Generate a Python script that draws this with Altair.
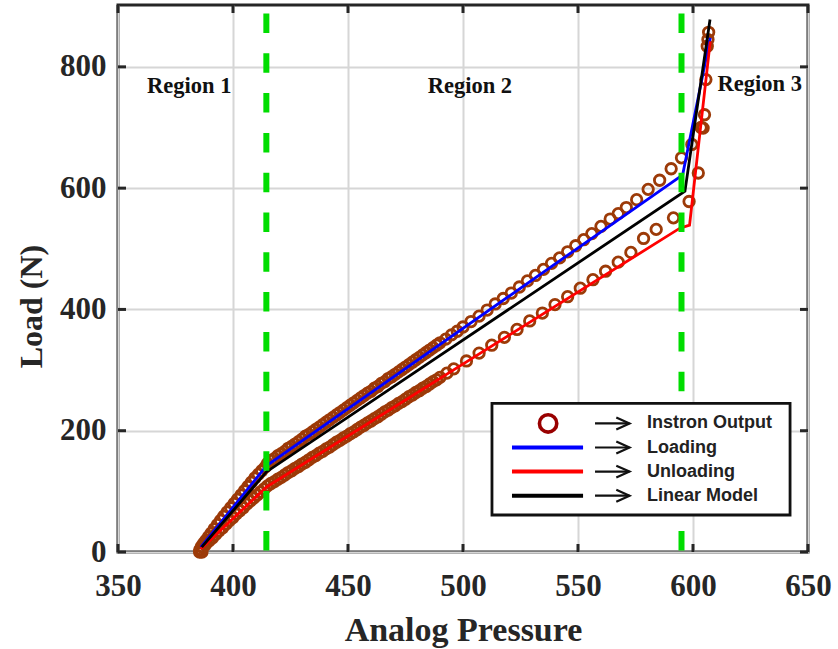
import altair as alt
import pandas as pd

# ---------------- data ----------------
X_TICKS = [350, 400, 450, 500, 550, 600, 650]
Y_TICKS = [0, 200, 400, 600, 800]

# Instron output, loading branch
LOAD_PTS_X = [385.5, 386, 386.5, 385.6, 386.3, 387.2, 388.2, 389.3, 390.5, 391.8, 393.2, 394.6, 396, 397.5,
              399, 400.5, 402, 403.5, 405, 406.5, 408, 409.5, 411, 412.5, 414,
              415, 416.5, 418, 419.5, 421, 422.5, 424, 425.5, 427, 428.5, 430, 431.5, 433, 434.5, 436,
              437.5, 439, 440.5, 442, 443.5, 445, 446.5, 448, 449.5, 451, 452.5, 454, 455.5, 457, 458.5,
              460, 461.5, 463, 464.5, 466, 467.5, 469, 470.5, 472, 473.5, 475, 476.5, 478, 479.5, 481,
              482.5, 484, 485.5, 487, 488.5, 490, 492.5, 495, 497.5, 500,
              503.5, 507, 510.5, 514, 517.5, 521, 524.5, 528, 531.5, 535, 538.5, 542, 545.5, 549, 552.5,
              556, 560, 564, 567.5, 571, 575.5, 580.5, 585.5, 590.5, 595, 599.5, 603.5, 606.2, 606.8]
LOAD_PTS_Y = [0, 2, 0, 4, 9, 14, 19, 25, 31, 38, 45, 52, 59, 66,
              73, 80, 87, 94, 101, 108, 115, 122, 128, 134, 140,
              146, 151, 154, 159, 162, 166, 171, 174, 178, 182, 186, 191, 194, 198, 202,
              206, 210, 214, 218, 222, 226, 230, 234, 238, 242, 246, 250, 254, 258, 262,
              265, 270, 273, 278, 281, 286, 289, 293, 297, 301, 305, 309, 313, 317, 321,
              325, 329, 333, 337, 341, 345, 351, 358, 364, 371,
              380, 389, 399, 409, 418, 427, 437, 447, 456, 466, 476, 485, 495, 505, 515,
              525, 537, 549, 558, 568, 581, 598, 613, 632, 650, 672, 700, 834, 857]

# Instron output, unloading branch
UNLOAD_PTS_X = [606.5, 605.6, 605, 604.4, 602.3, 598.3, 591.5, 584, 578.5, 573, 567.5, 562, 556.5, 551,
                545.5, 540, 534.5, 529, 523.5, 518, 512.5, 507, 501.5, 496, 493,
                490, 488.5, 487, 485.5, 484, 482.5, 481, 479.5, 478, 476.5, 475, 473.5, 472, 470.5, 469,
                467.5, 466, 464.5, 463, 461.5, 460, 458.5, 457, 455.5, 454, 452.5, 451, 449.5, 448,
                446.5, 445, 443.5, 442, 440.5, 439, 437.5, 436, 434.5, 433, 431.5, 430, 428.5, 427,
                425.5, 424, 422.5, 421, 419.5, 418, 416.5, 415,
                413.5, 412, 410.5, 409, 407.5, 406, 404.5, 403, 401.5, 400, 398.5, 397, 395.5, 394,
                392.5, 391, 389.5, 388, 386.8, 386, 385.6]
UNLOAD_PTS_Y = [845, 779, 721, 699, 625, 578, 551, 532, 517, 494, 478, 463, 449, 435,
                421, 408, 394, 381, 367, 354, 341, 328, 315, 302, 295,
                288, 284, 281, 277, 273, 270, 266, 263, 259, 256, 252, 248, 245, 241, 238,
                234, 231, 227, 223, 220, 216, 213, 209, 206, 202, 198, 195, 191, 188,
                184, 181, 177, 173, 170, 166, 163, 159, 156, 152, 148, 145, 141, 138,
                134, 131, 127, 123, 120, 116, 113, 109,
                104, 99, 94, 89, 84, 79, 73, 68, 63, 57, 52, 46, 40, 35,
                29, 23, 18, 12, 8, 4, 1]

LOADING_X = [386, 414.5, 595.5, 607.5]
LOADING_Y = [8, 142, 622, 848]
UNLOADING_X = [607.5, 598.5, 594.3, 414.5, 386]
UNLOADING_Y = [842, 539, 534, 107, 5]
MODEL_X = [386.4, 414.5, 596.5, 607.4]
MODEL_Y = [8, 132, 595, 878]

REGION_BOUNDS = [414.5, 595]
REGION_LABELS = ["Region 1", "Region 2", "Region 3"]
REGION_LABEL_X = [381, 503, 629]
REGION_LABEL_Y = [757, 757, 760]

LEGEND_LABELS = ["Instron Output", "Loading", "Unloading", "Linear Model"]
LEGEND_COLORS = ["#990000", "#0000ff", "#ff0000", "#000000"]

# ---------------- layout ----------------
W, H = 690, 547
X_DOM = [350, 650]
Y_DOM = [0, 902]
SERIF = "Liberation Serif"
TXT = "#262626"

xscale = alt.Scale(domain=X_DOM, nice=False, zero=False)
yscale = alt.Scale(domain=Y_DOM, nice=False, zero=False)

xaxis = alt.Axis(values=X_TICKS, grid=True, gridColor="#d6d6d6", gridWidth=2, domain=False, ticks=False,
                 labelFont=SERIF, labelFontSize=31, labelFontWeight="bold", labelColor=TXT, labelPadding=19,
                 labelFlush=False, labelOverlap=False,
                 title="Analog Pressure", titleFont=SERIF, titleFontSize=34, titleFontWeight="bold",
                 titleColor=TXT, titleX=345, titleY=88, titleBaseline="alphabetic", titleAlign="center")
yaxis = alt.Axis(values=Y_TICKS, grid=True, gridColor="#d6d6d6", gridWidth=2, domain=False, ticks=False,
                 labelFont=SERIF, labelFontSize=31, labelFontWeight="bold", labelColor=TXT, labelPadding=12,
                 labelFlush=False, labelOverlap=False,
                 title="Load (N)", titleFont=SERIF, titleFontSize=32, titleFontWeight="bold",
                 titleColor=TXT, titleX=-87, titleY=301, titleAngle=270, titleBaseline="middle",
                 titleAlign="center")


def X(field="x"):
    return alt.X(f"{field}:Q", scale=xscale, axis=xaxis)


def Y(field="y"):
    return alt.Y(f"{field}:Q", scale=yscale, axis=yaxis)


pts = pd.DataFrame({"x": LOAD_PTS_X + UNLOAD_PTS_X, "y": LOAD_PTS_Y + UNLOAD_PTS_Y})
points = alt.Chart(pts).mark_point(shape="circle", filled=False, color="#9c3a08", size=110,
                                   strokeWidth=2.8, opacity=1).encode(x=X(), y=Y())


def line_layer(xs, ys, color):
    df = pd.DataFrame({"x": xs, "y": ys, "i": list(range(len(xs)))})
    return alt.Chart(df).mark_line(color=color, strokeWidth=2.8).encode(x=X(), y=Y(), order="i:Q")


blue = line_layer(LOADING_X, LOADING_Y, "#0000ff")
red = line_layer(UNLOADING_X, UNLOADING_Y, "#ff0000")
black = line_layer(MODEL_X, MODEL_Y, "#000000")

green_df = pd.DataFrame({"x": REGION_BOUNDS, "top": [888, 888], "bottom": [0, 0]})
green = alt.Chart(green_df).mark_rule(color="#00dd00", strokeWidth=6, strokeDash=[19.5, 20.3]).encode(
    x=X(), y=Y("top"), y2="bottom:Q")

reg_df = pd.DataFrame({"x": REGION_LABEL_X, "y": REGION_LABEL_Y, "t": REGION_LABELS})
regions = alt.Chart(reg_df).mark_text(font=SERIF, fontWeight="bold", fontSize=22.5, color="#111111",
                                      align="center", baseline="alphabetic").encode(x=X(), y=Y(), text="t:N")

# ---- legend (drawn in data coordinates) ----
LEG_BOX = dict(x=[512.6], x2=[642.2], y=[245], y2=[61])
LEG_ROWS = [212, 172.3, 132.6, 92.8]
box = alt.Chart(pd.DataFrame(LEG_BOX)).mark_rect(fill="white", stroke="#111111", strokeWidth=2.8).encode(
    x=X(), x2="x2:Q", y=Y(), y2="y2:Q")

leg_circle = alt.Chart(pd.DataFrame({"x": [537], "y": [LEG_ROWS[0]]})).mark_point(
    shape="circle", filled=False, color=LEGEND_COLORS[0], size=300, strokeWidth=3.6, opacity=1).encode(
    x=X(), y=Y())

leg_lines_df = pd.DataFrame({"x": [521.3] * 3, "x2": [552.2] * 3, "y": LEG_ROWS[1:], "c": LEGEND_COLORS[1:]})
leg_lines = alt.Chart(leg_lines_df).mark_rule(strokeWidth=4).encode(
    x=X(), x2="x2:Q", y=Y(), color=alt.Color("c:N", scale=None))

arr_df = pd.DataFrame({"x": [557.4] * 4, "x2": [572.4] * 4, "y": LEG_ROWS})
arr_shaft = alt.Chart(arr_df).mark_rule(strokeWidth=2.2, color="#111111").encode(x=X(), x2="x2:Q", y=Y())
arr_head = alt.Chart(arr_df).mark_point(shape="M-1,-0.45L0,0L-1,0.45", filled=False, color="#111111",
                                        strokeWidth=2.2, size=700, opacity=1).encode(
    x=X("x2"), y=Y())

leg_text_df = pd.DataFrame({"x": [580] * 4, "y": LEG_ROWS, "t": LEGEND_LABELS})
leg_text = alt.Chart(leg_text_df).mark_text(font="Liberation Sans", fontWeight="bold", fontSize=18,
                                            color="#222222", align="left", baseline="middle").encode(
    x=X(), y=Y(), text="t:N")

# ---- inward ticks on all four sides ----
xt = pd.DataFrame({"x": X_TICKS})
yt = pd.DataFrame({"y": Y_TICKS})
tick_style = dict(color="#262626", strokeWidth=3)
xt_bottom = alt.Chart(xt).mark_rule(**tick_style).encode(x=X(), y=alt.value(H), y2=alt.value(H - 8))
xt_top = alt.Chart(xt).mark_rule(**tick_style).encode(x=X(), y=alt.value(0), y2=alt.value(8))
yt_left = alt.Chart(yt).mark_rule(**tick_style).encode(y=Y(), x=alt.value(0), x2=alt.value(8))
yt_right = alt.Chart(yt).mark_rule(**tick_style).encode(y=Y(), x=alt.value(W), x2=alt.value(W - 8))

chart = alt.layer(
    points, blue, red, black, green, regions,
    box, leg_circle, leg_lines, arr_shaft, arr_head, leg_text,
    xt_bottom, xt_top, yt_left, yt_right,
).properties(
    width=W, height=H,
    autosize=alt.AutoSizeParams(type="none"),
    padding={"left": 118, "top": 5, "right": 30, "bottom": 97},
    background="white",
).configure_view(stroke="#262626", strokeWidth=3)

chart.save("out.html", embed_options={"renderer": "svg", "actions": False})
